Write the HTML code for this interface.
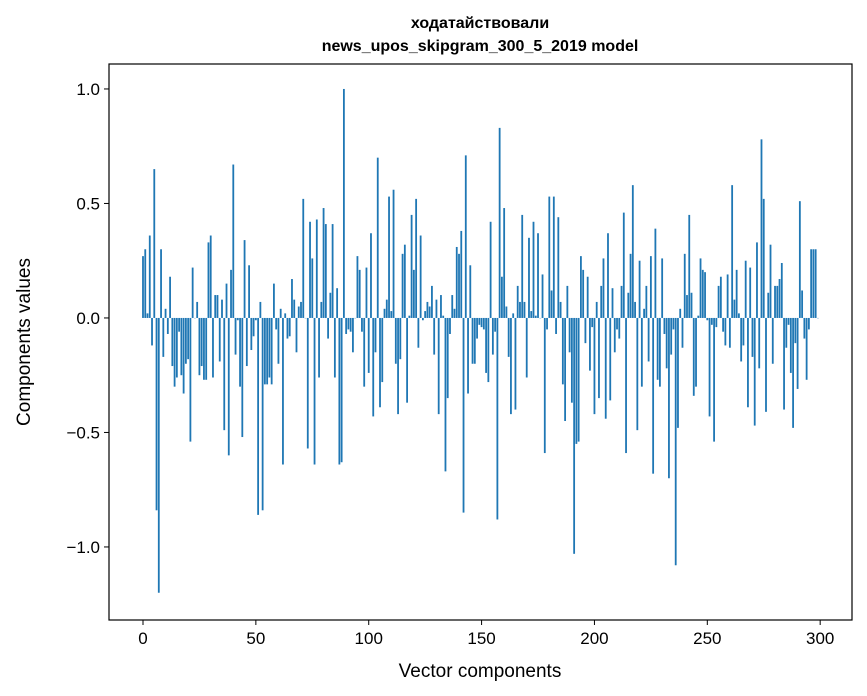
<!DOCTYPE html>
<html><head><meta charset="utf-8">
<style>
body{margin:0;background:#fff;}
svg{display:block;font-family:"Liberation Sans","DejaVu Sans",sans-serif;}
</style></head>
<body>
<svg id="chart" width="867" height="696" viewBox="0 0 867 696" xmlns="http://www.w3.org/2000/svg">
<rect x="0" y="0" width="867" height="696" fill="#fff"/>
<text x="480" y="28" text-anchor="middle" font-size="16" font-weight="bold">ходатайствовали</text>
<text x="480" y="51" text-anchor="middle" font-size="16" font-weight="bold">news_upos_skipgram_300_5_2019 model</text>
<g id="bars"></g>
<g id="axes"></g>
<rect x="109" y="64" width="743" height="556" fill="none" stroke="#000" stroke-width="1.2"/>
<text x="480" y="677" text-anchor="middle" font-size="19">Vector components</text>
<text transform="translate(30,342) rotate(-90)" text-anchor="middle" font-size="19">Components values</text>
</svg>
<script>
const values = [0.27,0.30,0.02,0.36,-0.12,0.65,-0.84,-1.20,0.30,-0.17,0.04,-0.07,0.18,-0.21,-0.30,-0.26,-0.06,-0.25,-0.33,-0.20,-0.18,-0.54,0.22,0.00,0.07,-0.25,-0.21,-0.27,-0.27,0.33,0.36,-0.26,0.10,0.10,-0.19,0.08,-0.49,0.15,-0.60,0.21,0.67,-0.16,-0.01,-0.30,-0.52,0.34,-0.21,0.23,-0.14,-0.08,
-0.01,-0.86,0.07,-0.84,-0.29,-0.29,-0.26,-0.29,0.15,-0.05,-0.20,0.04,-0.64,0.02,-0.09,-0.08,0.17,0.08,-0.15,0.05,0.07,0.52,0.00,-0.57,0.42,0.26,-0.64,0.43,-0.26,0.07,0.48,0.41,-0.09,0.11,0.41,-0.26,0.13,-0.64,-0.63,1.00,-0.07,-0.05,-0.06,-0.15,0.00,0.27,0.21,-0.06,-0.30,0.22,
-0.24,0.37,-0.43,-0.15,0.70,-0.39,-0.28,0.04,0.08,0.53,0.03,0.56,-0.20,-0.42,-0.18,0.28,0.32,-0.37,0.01,0.45,0.21,0.52,-0.13,0.36,-0.01,0.03,0.07,0.05,0.14,-0.16,0.08,-0.42,0.10,0.01,-0.67,-0.35,-0.07,0.10,0.04,0.31,0.28,0.38,-0.85,0.71,-0.33,0.23,-0.20,-0.20,-0.09,-0.03,
-0.04,-0.05,-0.24,-0.28,0.42,-0.16,-0.06,-0.88,0.83,0.18,0.48,0.05,-0.17,-0.42,0.02,-0.40,0.14,0.07,0.45,0.07,-0.26,0.35,0.03,0.42,0.01,0.37,0.00,0.19,-0.59,-0.05,0.53,0.12,0.53,-0.07,0.44,0.07,-0.29,-0.45,0.14,-0.15,-0.37,-1.03,-0.55,-0.54,0.27,0.21,-0.11,0.18,-0.23,-0.04,
-0.42,0.07,-0.35,0.14,0.26,-0.44,0.37,-0.36,0.13,-0.15,-0.05,-0.09,0.14,0.46,-0.59,0.11,0.28,0.58,0.07,-0.49,0.25,-0.30,0.04,0.14,-0.19,0.27,-0.68,0.39,-0.27,-0.30,0.26,-0.07,-0.22,-0.70,-0.16,-0.05,-1.08,-0.48,0.04,-0.13,0.28,0.10,0.45,0.11,-0.34,-0.30,0.01,0.26,0.21,0.20,
-0.01,-0.43,-0.03,-0.54,-0.04,0.14,0.18,-0.06,-0.12,0.19,-0.13,0.58,0.08,0.21,0.02,-0.19,-0.12,0.25,-0.39,0.22,-0.17,-0.47,0.33,-0.22,0.78,0.52,-0.41,0.11,0.32,-0.20,0.14,0.14,0.17,0.24,-0.40,-0.13,-0.03,-0.24,-0.48,-0.11,-0.31,0.51,0.12,-0.09,-0.27,-0.05,0.30,0.30,0.30,0.00];
const xTicks = [0,50,100,150,200,250,300];
const yTicks = [-1.0,-0.5,0.0,0.5,1.0];
const yTickLabels = ["\u22121.0","\u22120.5","0.0","0.5","1.0"];

const X0=109,X1=852,Y0=64,Y1=620;
const xMin=-15.06,xMax=314.1,yMin=-1.319,yMax=1.109;
function sx(v){return X0+(v-xMin)/(xMax-xMin)*(X1-X0);}
function sy(v){return Y1-(v-yMin)/(yMax-yMin)*(Y1-Y0);}
const NS="http://www.w3.org/2000/svg";
const bars=document.getElementById('bars');
values.forEach((v,i)=>{
  const r=document.createElementNS(NS,'rect');
  const xl=sx(i-0.4), xr=sx(i+0.4);
  const y=Math.min(sy(v),sy(0)), h=Math.abs(sy(v)-sy(0));
  r.setAttribute('x',xl);r.setAttribute('width',xr-xl);
  r.setAttribute('y',y);r.setAttribute('height',Math.max(h,0.3));
  r.setAttribute('fill','#1f77b4');
  
  
  bars.appendChild(r);
});
const axes=document.getElementById('axes');
xTicks.forEach(t=>{
  const l=document.createElementNS(NS,'line');
  l.setAttribute('x1',sx(t));l.setAttribute('x2',sx(t));l.setAttribute('y1',Y1);l.setAttribute('y2',Y1+5);
  l.setAttribute('stroke','#000');l.setAttribute('stroke-width','1');
  
  
  axes.appendChild(l);
  const tx=document.createElementNS(NS,'text');
  tx.setAttribute('x',sx(t));tx.setAttribute('y',Y1+24);tx.setAttribute('text-anchor','middle');tx.setAttribute('font-size','17');
  tx.textContent=String(t);
  
  
  axes.appendChild(tx);
});
yTicks.forEach((t,k)=>{
  const l=document.createElementNS(NS,'line');
  l.setAttribute('x1',X0-5);l.setAttribute('x2',X0);l.setAttribute('y1',sy(t));l.setAttribute('y2',sy(t));
  l.setAttribute('stroke','#000');l.setAttribute('stroke-width','1');
  
  
  axes.appendChild(l);
  const tx=document.createElementNS(NS,'text');
  tx.setAttribute('x',X0-9);tx.setAttribute('y',sy(t)+6);tx.setAttribute('text-anchor','end');tx.setAttribute('font-size','17');
  tx.textContent=yTickLabels[k];
  
  
  axes.appendChild(tx);
});
</script>
</body></html>
